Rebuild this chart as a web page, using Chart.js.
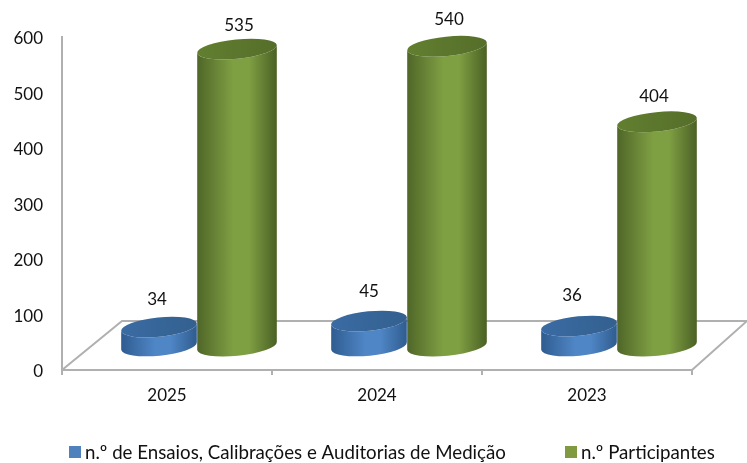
<!DOCTYPE html>
<html><head><meta charset="utf-8">
<style>html,body{margin:0;padding:0;background:#fff}canvas{display:block}</style>
<script src="https://cdn.jsdelivr.net/npm/chart.js@4"></script></head>
<body><canvas id="c" width="747" height="463"></canvas>
<script>
const categories = ['2025','2024','2023'];
const ensaios = [34,45,36];
const participantes = [535,540,404];
const seriesNames = ['n.º de Ensaios, Calibrações e Auditorias de Medição','n.º Participantes'];
const yTicks = [0,100,200,300,400,500,600];

const FONT = 'Lato';
const FS = 17;
const LEGEND_FS = 18.7;
const INK = '#111111';
const GREY = '#b0b0b0';
const DEPTH_X = 30, DEPTH_Y = 24, TILT = -0.1, RY = 9.7;
const looks = [
  {edge:'#2f5c90',mid:'#4f86c6',edgeR:'#2f5c8e',capL:'#3a6ba3',capR:'#33608f',lx:[-2,0,-7],ly:[-28,-30,-31]},
  {edge:'#4f6628',mid:'#7f9f43',edgeR:'#4a6024',capL:'#627f30',capR:'#556e2a',lx:[2,2,-3],ly:[-24,-27,-25]}
];

const floorPlugin = {
  id:'floor',
  beforeDatasetsDraw(chart){
    const {ctx,chartArea:a} = chart;
    const dx = 60, dy = 49;
    ctx.save();
    ctx.strokeStyle = GREY; ctx.lineWidth = 2;
    ctx.beginPath();
    ctx.moveTo(a.left,a.bottom); ctx.lineTo(a.left+dx,a.bottom-dy);
    ctx.lineTo(chart.width,a.bottom-dy);
    ctx.moveTo(a.right,a.bottom); ctx.lineTo(chart.width,a.bottom-dy);
    ctx.stroke();
    ctx.restore();
  }
};

const cylinderPlugin = {
  id:'cylinder',
  beforeDatasetDraw(chart,args){
    const {ctx} = chart;
    const meta = args.meta, look = looks[args.index];
    const base = chart.scales.y.getPixelForValue(0) - DEPTH_Y;
    meta.data.forEach(bar=>{
      const x = bar.x + DEPTH_X, rx = bar.width/2;
      const top = bar.y - DEPTH_Y;
      const g = ctx.createLinearGradient(x-rx,0,x+rx,0);
      g.addColorStop(0,look.edge); g.addColorStop(.45,look.mid);
      g.addColorStop(.65,look.mid); g.addColorStop(1,look.edgeR);
      ctx.save();
      ctx.fillStyle = g;
      ctx.beginPath();
      ctx.ellipse(x,top,rx,RY,TILT,Math.PI,0,true);
      ctx.ellipse(x,base,rx,RY,TILT,0,Math.PI,false);
      ctx.closePath();
      ctx.fill();
      const c = ctx.createLinearGradient(x-rx,0,x+rx,0);
      c.addColorStop(0,look.capL); c.addColorStop(1,look.capR);
      ctx.fillStyle = c;
      ctx.beginPath();
      ctx.ellipse(x,top,rx,RY,TILT,0,Math.PI*2);
      ctx.fill();
      ctx.restore();
    });
    return false;
  },
  afterDatasetsDraw(chart){
    const {ctx} = chart;
    ctx.save();
    ctx.font = FS+'px '+FONT; ctx.fillStyle=INK;
    ctx.textAlign='center'; ctx.textBaseline='middle';
    chart.data.datasets.forEach((ds,i)=>{
      const look = looks[i];
      chart.getDatasetMeta(i).data.forEach((bar,j)=>{
        ctx.fillText(ds.data[j], bar.x+DEPTH_X+look.lx[j], bar.y-DEPTH_Y+look.ly[j]);
      });
    });
    ctx.restore();
  }
};

const legendPlugin = {
  id:'seriesKey',
  afterDraw(chart){
    const {ctx} = chart;
    const slots = [69,565];
    ctx.save();
    ctx.textAlign='left'; ctx.textBaseline='middle';
    ctx.font = LEGEND_FS+'px '+FONT;
    chart.data.datasets.forEach((ds,i)=>{
      ctx.fillStyle = ds.backgroundColor;
      ctx.fillRect(slots[i],446,12,12);
      ctx.fillStyle = INK;
      ctx.fillText(ds.label,slots[i]+16,453);
    });
    ctx.restore();
  }
};

new Chart(document.getElementById('c'),{
  type:'bar',
  data:{labels:categories,datasets:[
    {label:seriesNames[0],data:ensaios,backgroundColor:'#4f81bd',barThickness:76},
    {label:seriesNames[1],data:participantes,backgroundColor:'#7f9a3f',barThickness:80}
  ]},
  options:{
    responsive:false,animation:false,
    layout:{padding:{top:37,right:55,left:0,bottom:0}},
    plugins:{tooltip:{enabled:false},legend:{display:false}},
    scales:{
      x:{
        afterFit(s){s.height=93;},
        grid:{drawOnChartArea:false,color:GREY,lineWidth:2,tickLength:5,offset:true},
        border:{color:GREY,width:2},
        ticks:{color:INK,padding:10,font:{family:FONT,size:FS}}
      },
      y:{
        min:0,max:600,
        afterFit(s){s.width=62;},
        afterBuildTicks(s){s.ticks=yTicks.map(v=>({value:v}));},
        grid:{display:false},
        border:{color:GREY,width:2},
        ticks:{color:INK,padding:11,labelOffset:2,font:{family:FONT,size:FS}}
      }
    }
  },
  plugins:[floorPlugin,cylinderPlugin,legendPlugin]
});
</script></body></html>
